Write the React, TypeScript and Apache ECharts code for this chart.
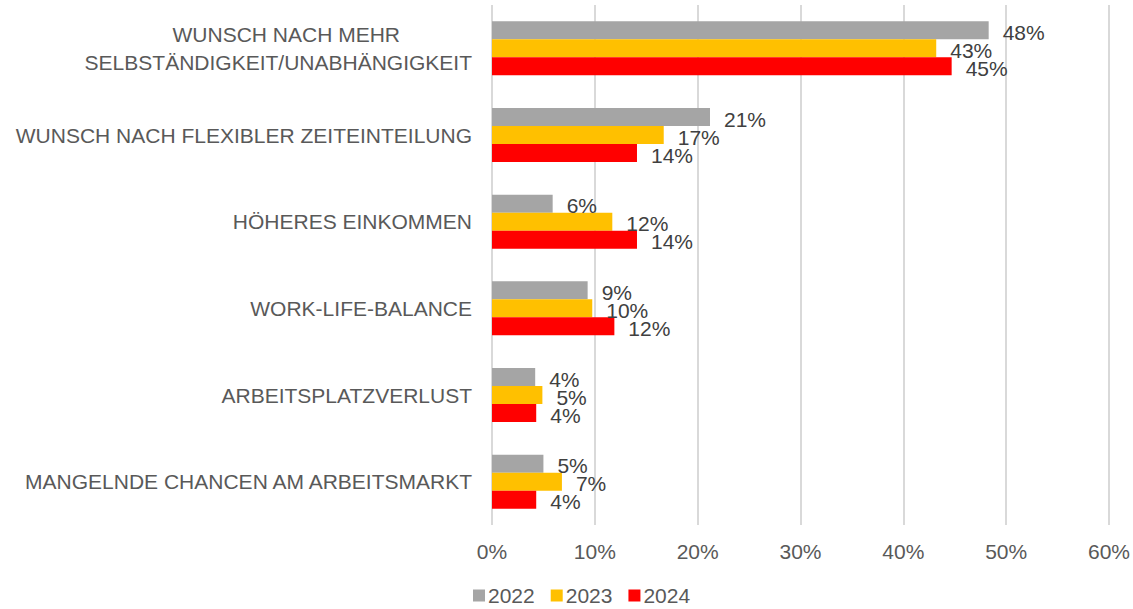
import React, { useEffect, useRef } from "react";
import * as echarts from "echarts";

const categories = [
  "WUNSCH NACH MEHR\nSELBSTÄNDIGKEIT/UNABHÄNGIGKEIT",
  "WUNSCH NACH FLEXIBLER ZEITEINTEILUNG",
  "HÖHERES EINKOMMEN",
  "WORK-LIFE-BALANCE",
  "ARBEITSPLATZVERLUST",
  "MANGELNDE CHANCEN AM ARBEITSMARKT",
];
const years = ["2022", "2023", "2024"];
const values2022 = [48.3, 21.2, 5.9, 9.3, 4.2, 5.0];
const values2023 = [43.2, 16.7, 11.7, 9.75, 4.9, 6.8];
const values2024 = [44.7, 14.1, 14.1, 11.9, 4.3, 4.3];
const colors = ["#A5A5A5", "#FFC000", "#FF0000"];
const xTicks = [0, 10, 20, 30, 40, 50, 60];

const FONT = "'Liberation Sans', Arial, sans-serif";

export default function App() {
  const ref = useRef<HTMLDivElement>(null);
  useEffect(() => {
    document.body.style.margin = "0";
    const chart = echarts.init(ref.current!, null, { renderer: "svg" });
    const seriesData = [values2022, values2023, values2024];
    chart.setOption({
      animation: false,
      textStyle: { fontFamily: FONT },
      grid: { left: 492, right: 23, top: 5, bottom: 84, containLabel: false },
      legend: {
        data: years,
        bottom: -2,
        left: 468,
        itemWidth: 12,
        itemHeight: 12,
        itemGap: 16,
        icon: "rect",
        textStyle: { fontSize: 21, color: "#595959", fontFamily: FONT, padding: [0, 0, 0, -2] },
      },
      xAxis: {
        type: "value",
        min: xTicks[0],
        max: xTicks[xTicks.length - 1],
        interval: 10,
        axisLabel: {
          fontSize: 21,
          color: "#595959",
          fontFamily: FONT,
          margin: 16,
          formatter: (v: number) => `${v}%`,
        },
        splitLine: { lineStyle: { color: "#D9D9D9", width: 2 } },
        axisLine: { show: false },
        axisTick: { show: false },
      },
      yAxis: {
        type: "category",
        inverse: true,
        data: categories,
        axisLine: { show: false },
        axisTick: { show: false },
        axisLabel: {
          fontSize: 21,
          color: "#595959",
          fontFamily: FONT,
          margin: 20,
          formatter: (v: string) => {
            if (!v.includes("\n")) return v;
            const parts = v.split("\n");
            return `{a|${parts[0]}}\n{c|${parts[1]}}`;
          },
          rich: {
            a: {
              align: "center",
              fontSize: 21,
              color: "#595959",
              fontFamily: FONT,
              lineHeight: 28,
              padding: [0, 0, 0, 16],
            },
            c: { align: "center", fontSize: 21, color: "#595959", fontFamily: FONT, lineHeight: 28 },
          },
        },
      },
      series: years.map((y, i) => ({
        name: y,
        type: "bar",
        data: seriesData[i],
        barWidth: 18,
        barGap: "0%",
        barCategoryGap: "38%",
        itemStyle: { color: colors[i] },
        label: {
          show: true,
          position: "right",
          distance: 14,
          offset: [0, 2],
          fontSize: 21,
          fontFamily: FONT,
          color: "#404040",
          formatter: (p: any) => `${Math.round(p.value)}%`,
        },
      })),
    });
    return () => chart.dispose();
  }, []);
  return <div ref={ref} style={{ width: 1133, height: 609 }} />;
}
